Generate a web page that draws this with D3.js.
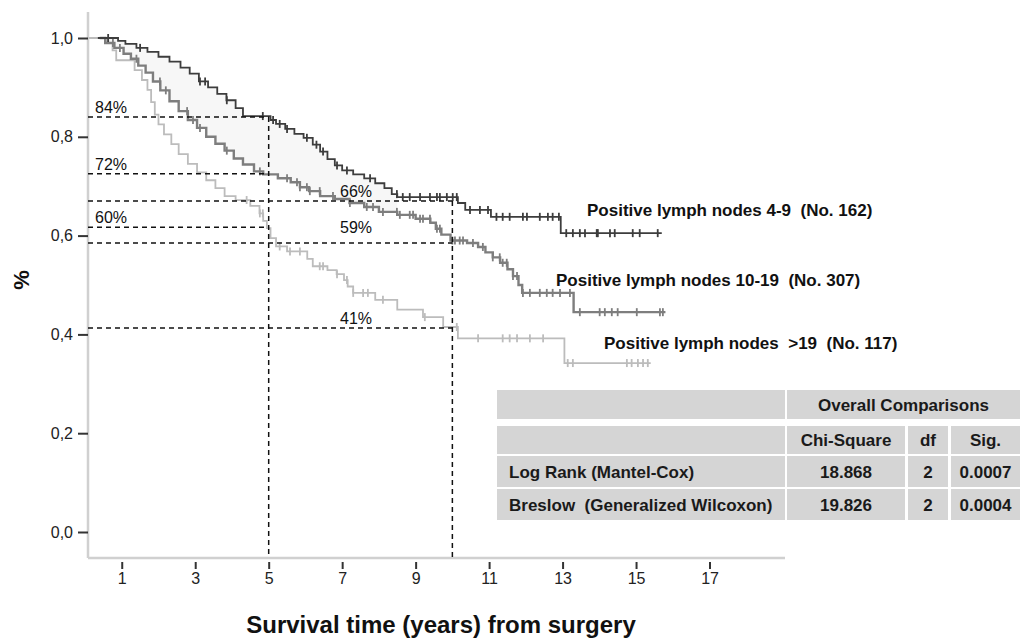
<!DOCTYPE html>
<html>
<head>
<meta charset="utf-8">
<script src="https://cdn.jsdelivr.net/npm/d3@7"></script>
<style>
  body { margin: 0; background: #fff; }
  svg { display: block; font-family: 'Liberation Sans', Arial, sans-serif; }
</style>
</head>
<body>
<div id="chart"></div>
<script>
// Kaplan-Meier step points [years, survival]
const steps4to9 = [[0.35,1.0],[0.9,0.994],[1.1,0.988],[1.4,0.98],[1.7,0.972],[2.0,0.962],[2.3,0.952],[2.6,0.94],
  [2.85,0.928],[3.1,0.912],[3.35,0.9],[3.6,0.887],[3.85,0.874],[4.1,0.858],[4.3,0.842],[5.05,0.834],[5.2,0.826],
  [5.45,0.816],[5.7,0.806],[5.95,0.798],[6.2,0.784],[6.4,0.77],[6.6,0.755],[6.8,0.742],[7.0,0.732],[7.3,0.724],
  [7.6,0.716],[7.9,0.706],[8.15,0.696],[8.35,0.684],[8.5,0.678],[10.15,0.666],[10.35,0.652],[11.05,0.638],
  [12.95,0.605],[15.7,0.605]];
const steps10to19 = [[0.4,1.0],[0.55,0.99],[0.8,0.98],[1.05,0.968],[1.25,0.958],[1.45,0.944],[1.65,0.93],[1.85,0.912],
  [2.05,0.894],[2.3,0.872],[2.55,0.852],[2.8,0.834],[3.05,0.818],[3.3,0.8],[3.55,0.786],[3.8,0.772],[4.05,0.756],
  [4.3,0.744],[4.6,0.73],[4.85,0.724],[5.25,0.716],[5.6,0.708],[5.85,0.698],[6.1,0.69],[6.4,0.68],[6.8,0.674],
  [7.2,0.666],[7.6,0.658],[8.0,0.648],[8.5,0.642],[9.0,0.634],[9.4,0.626],[9.55,0.614],[9.7,0.602],[9.95,0.59],
  [10.4,0.585],[10.7,0.577],[10.9,0.566],[11.1,0.556],[11.3,0.545],[11.5,0.532],[11.65,0.518],[11.8,0.5],
  [11.9,0.484],[13.3,0.445],[15.8,0.445]];
const stepsOver19 = [[0.1,1.0],[0.6,0.99],[0.75,0.975],[0.85,0.955],[1.35,0.935],[1.55,0.915],[1.7,0.895],[1.8,0.87],
  [1.9,0.845],[2.0,0.825],[2.15,0.805],[2.35,0.785],[2.55,0.765],[2.8,0.745],[3.05,0.728],[3.3,0.712],[3.55,0.696],
  [3.8,0.68],[4.1,0.672],[4.5,0.66],[4.75,0.645],[4.85,0.63],[4.95,0.615],[5.05,0.595],[5.2,0.578],[5.5,0.568],
  [6.05,0.553],[6.2,0.538],[6.6,0.53],[6.85,0.522],[7.05,0.51],[7.15,0.497],[7.3,0.484],[7.9,0.47],[8.5,0.45],
  [9.2,0.435],[9.75,0.415],[10.15,0.392],[13.05,0.342],[15.4,0.342]];

// censored observations (years)
const censor4to9 = [0.63,1.5,3.13,3.27,3.86,4.84,5.12,5.3,5.5,6.04,6.3,6.48,6.86,7.13,7.76,8.49,8.65,8.84,9.12,9.39,
  9.58,9.66,9.85,10.01,10.12,10.48,10.75,10.97,11.2,11.37,11.56,11.92,12.03,12.38,12.6,12.73,12.9,13.1,13.28,13.47,
  13.61,13.93,13.96,14.29,14.42,14.91,15.1,15.59];
const censor10to19 = [0.76,0.95,1.4,2.04,2.2,2.78,2.94,3.13,3.86,4.76,5.5,5.77,5.85,6.04,6.12,6.39,6.75,7.21,7.67,
  7.84,8.11,8.49,8.57,8.84,8.93,9.12,9.2,9.39,9.58,9.66,10.0,10.07,10.2,10.29,10.56,10.83,11.1,11.29,11.37,11.48,
  11.65,11.76,11.92,12.11,12.38,12.57,12.73,12.93,13.2,13.47,14.01,14.15,14.34,14.5,15.02,15.65,15.73];
const censorOver19 = [4.4,4.76,4.84,5.3,5.58,5.85,6.39,6.48,6.86,7.13,7.3,7.57,7.7,8.11,9.25,10.12,10.7,11.37,
  11.56,11.76,12.11,12.47,13.14,13.28,14.75,14.88,15.05,15.19,15.32];

const groupLabels = ['Positive lymph nodes 4-9  (No. 162)', 'Positive lymph nodes 10-19  (No. 307)',
  'Positive lymph nodes  >19  (No. 117)'];

const xTicks = [1, 3, 5, 7, 9, 11, 13, 15, 17];
const yTicks = [0, 0.2, 0.4, 0.6, 0.8, 1.0];

// reference survival at 5 and 10 years
const refTimes = [5, 5, 5, 10, 10, 10];
const refValues = [0.84, 0.725, 0.617, 0.67, 0.585, 0.413];
const refLabels = ['84%', '72%', '60%', '66%', '59%', '41%'];

const testNames = ['Log Rank (Mantel-Cox)', 'Breslow  (Generalized Wilcoxon)'];
const chiSquare = ['18.868', '19.826'];
const dfValues = ['2', '2'];
const sigValues = ['0.0007', '0.0004'];
const tableHeader = ['Chi-Square', 'df', 'Sig.'];

const width = 1020, height = 641;
const svg = d3.select('#chart').append('svg').attr('width', width).attr('height', height);

const x = d3.scaleLinear().domain([0, 19]).range([85, 783]);
const y = d3.scaleLinear().domain([0, 1]).range([532, 38]);
const axisX = 88, axisY = 558;

const survivalAt = (steps, t) => {
    let s = steps[0][1];
    steps.forEach(d => { if (d[0] <= t) s = d[1]; });
    return s;
};

// faint shading between the upper two curves
const shadeTimes = Array.from(new Set(steps4to9.concat(steps10to19).map(d => d[0])))
    .filter(t => t >= 0.4 && t <= 8.5).sort((a, b) => a - b);
const area = d3.area().curve(d3.curveStepAfter)
    .x(t => x(t)).y0(t => y(survivalAt(steps10to19, t))).y1(t => y(survivalAt(steps4to9, t)));
svg.append('path').datum(shadeTimes).attr('d', area).attr('fill', '#f7f7f7');

// axes
svg.append('line').attr('x1', axisX).attr('x2', axisX).attr('y1', 12).attr('y2', axisY)
    .attr('stroke', '#d0d0d0').attr('stroke-width', 2.5);
svg.append('line').attr('x1', axisX).attr('x2', 785).attr('y1', axisY).attr('y2', axisY)
    .attr('stroke', '#d0d0d0').attr('stroke-width', 2.5);

const yAxis = svg.append('g').attr('transform', `translate(${axisX},0)`)
    .call(d3.axisLeft(y).tickValues(yTicks).tickSize(10).tickPadding(5)
        .tickFormat(d => d.toFixed(1).replace('.', ',')));
const xAxis = svg.append('g').attr('transform', `translate(0,${axisY + 4})`)
    .call(d3.axisBottom(x).tickValues(xTicks).tickSize(7).tickPadding(4));
[yAxis, xAxis].forEach(g => {
    g.select('.domain').remove();
    g.selectAll('.tick line').attr('stroke', '#333').attr('stroke-width', 2);
    g.selectAll('.tick text').attr('fill', '#222').style('font-size', '16px')
        .style('font-family', "'Liberation Sans', Arial, sans-serif");
});

// curves
const line = d3.line().curve(d3.curveStepAfter).x(d => x(d[0])).y(d => y(d[1]));
const curves = [
    {steps: steps4to9, censor: censor4to9, color: '#3d3d3d', w: 1.8},
    {steps: steps10to19, censor: censor10to19, color: '#7e7e7e', w: 2.4},
    {steps: stepsOver19, censor: censorOver19, color: '#bcbcbc', w: 1.8}
];
curves.slice().reverse().forEach(c => {
    svg.append('path').datum(c.steps).attr('d', line).attr('fill', 'none')
        .attr('stroke', c.color).attr('stroke-width', c.w);
    svg.append('g').selectAll('line').data(c.censor).enter().append('line')
        .attr('x1', d => x(d)).attr('x2', d => x(d))
        .attr('y1', d => y(survivalAt(c.steps, d)) - 4).attr('y2', d => y(survivalAt(c.steps, d)) + 4)
        .attr('stroke', c.color).attr('stroke-width', 1.8);
});

// dashed reference lines
const refs = refTimes.map((t, i) => ({t, s: refValues[i], label: refLabels[i]}));
svg.append('g').selectAll('line').data(refs).enter().append('line')
    .attr('x1', axisX).attr('x2', d => x(d.t)).attr('y1', d => y(d.s)).attr('y2', d => y(d.s))
    .attr('stroke', '#111').attr('stroke-width', 1.5).attr('stroke-dasharray', '5,4');
[5, 10].forEach(t => {
    const top = d3.max(refs.filter(d => d.t === t), d => d.s);
    svg.append('line').attr('x1', x(t)).attr('x2', x(t)).attr('y1', y(top)).attr('y2', axisY)
        .attr('stroke', '#111').attr('stroke-width', 1.5).attr('stroke-dasharray', '5,4');
});
svg.append('g').selectAll('text').data(refs).enter().append('text')
    .attr('x', d => d.t === 5 ? 95 : 340)
    .attr('y', d => y(d.s) - (d.label === '59%' ? 10 : 4))
    .attr('fill', '#111').style('font-size', '16px')
    .text(d => d.label);

// curve labels
const labelPos = [[587, 216], [556, 286], [604, 349]];
svg.append('g').selectAll('text').data(groupLabels).enter().append('text')
    .attr('x', (d, i) => labelPos[i][0]).attr('y', (d, i) => labelPos[i][1])
    .attr('fill', '#111').style('font-size', '17px').style('font-weight', 'bold').style('white-space', 'pre')
    .text(d => d);

// axis titles
svg.append('text').attr('transform', 'translate(29,280) rotate(-90)').attr('text-anchor', 'middle')
    .attr('fill', '#111').style('font-size', '22px').style('font-weight', 'bold').text('%');
svg.append('text').attr('x', 441).attr('y', 633).attr('text-anchor', 'middle')
    .attr('fill', '#111').style('font-size', '24px').style('font-weight', 'bold')
    .text('Survival time (years) from surgery');

// comparison table
const table = svg.append('g');
const bg = '#d5d5d5';
const colX = [[497, 785], [787, 905], [908, 948], [951, 1020]];
const rowY = [[390, 419], [426, 454], [456, 487], [489, 520]];
const cell = (x0, x1, r) => table.append('rect').attr('x', x0).attr('y', rowY[r][0])
    .attr('width', x1 - x0).attr('height', rowY[r][1] - rowY[r][0]).attr('fill', bg);
const txt = (xp, r, t, anchor) => table.append('text').attr('x', xp)
    .attr('y', (rowY[r][0] + rowY[r][1]) / 2 + 6).attr('text-anchor', anchor || 'middle')
    .attr('fill', '#1a1a1a').style('font-size', '17px').style('font-weight', 'bold')
    .style('white-space', 'pre').text(t);

cell(colX[0][0], colX[0][1], 0);
cell(colX[1][0], colX[3][1], 0);
txt((colX[1][0] + colX[3][1]) / 2, 0, 'Overall Comparisons');
for (let r = 1; r < 4; r++) colX.forEach(c => cell(c[0], c[1], r));
tableHeader.forEach((h, i) => txt((colX[i + 1][0] + colX[i + 1][1]) / 2, 1, h));
testNames.forEach((name, i) => {
    txt(509, i + 2, name, 'start');
    [chiSquare[i], dfValues[i], sigValues[i]].forEach((v, j) =>
        txt((colX[j + 1][0] + colX[j + 1][1]) / 2, i + 2, v));
});
</script>
</body>
</html>
